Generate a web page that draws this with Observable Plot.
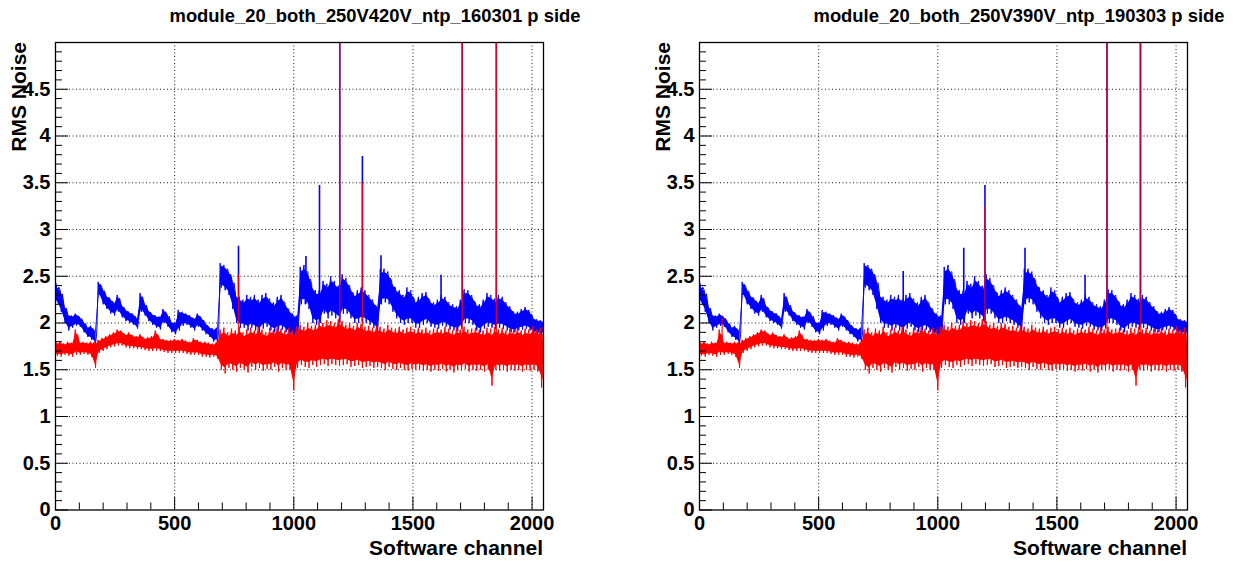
<!DOCTYPE html>
<html><head><meta charset="utf-8">
<script src="https://cdn.jsdelivr.net/npm/d3@7"></script>
<script src="https://cdn.jsdelivr.net/npm/@observablehq/plot@0.6"></script>
<style>
body{margin:0;background:#fff;font-family:"Liberation Sans",Arial,Helvetica,sans-serif;}
#wrap{position:relative;width:1241px;height:563px;overflow:hidden;background:#fff}
.panel{position:absolute;top:0;width:620px;height:563px}
.title{position:absolute;top:7px;font-weight:bold;font-size:18.4px;line-height:1;white-space:nowrap;transform:translateX(-50%)}
.xlab{position:absolute;top:537px;font-weight:bold;font-size:21px;line-height:1;white-space:nowrap;transform:translateX(-100%)}
.ylab{position:absolute;top:42px;font-weight:bold;font-size:21px;line-height:1;white-space:nowrap;transform-origin:0 0;transform:rotate(-90deg) translateX(-100%)}
</style></head>
<body><div id="wrap"></div>
<script>
// ---- data ----
const titles = ["module_20_both_250V420V_ntp_160301 p side", "module_20_both_250V390V_ntp_190303 p side"];
const xTitle = "Software channel";
const yTitle = "RMS Noise";
const xTicks = [0, 500, 1000, 1500, 2000];
const xMinor = [100,200,300,400,600,700,800,900,1100,1200,1300,1400,1600,1700,1800,1900];
const yTicks = [0, 0.5, 1, 1.5, 2, 2.5, 3, 3.5, 4, 4.5];
const yMinor = [0.1,0.2,0.3,0.4,0.6,0.7,0.8,0.9,1.1,1.2,1.3,1.4,1.6,1.7,1.8,1.9,2.1,2.2,2.3,2.4,2.6,2.7,2.8,2.9,3.1,3.2,3.3,3.4,3.6,3.7,3.8,3.9,4.1,4.2,4.3,4.4,4.6,4.7,4.8,4.9];

// envelope (min / max) of the noise per 16-channel bin
const blueLo = [2.24,2.12,2.0,1.92,1.95,1.97,1.96,1.9,1.85,1.82,1.78,2.3,2.2,2.15,2.1,2.08,
2.12,2.06,2.02,2.0,1.98,1.94,2.12,2.08,2.02,1.98,1.95,1.93,2.0,1.96,1.9,1.88,
1.92,1.97,1.98,1.95,1.92,1.96,1.92,1.88,1.85,1.8,1.8,2.38,2.35,2.3,2.15,2.0,
1.95,1.95,1.92,1.95,1.92,1.9,1.94,1.96,1.92,1.9,1.92,1.93,1.9,1.87,1.85,1.84,
2.2,2.2,2.15,2.0,1.98,2.0,2.1,2.05,2.08,2.05,2.02,2.1,2.1,2.05,2.0,2.0,
2.02,2.0,1.98,1.95,1.92,2.2,2.22,2.2,2.12,2.05,2.0,1.98,2.0,2.0,1.95,1.95,
1.98,2.0,1.96,1.95,1.94,1.97,1.96,1.93,1.92,1.91,1.94,2.0,2.0,1.98,1.92,1.9,
1.94,1.96,1.95,1.93,1.95,1.94,1.92,1.9,1.9,1.92,1.93,1.94,1.92,1.89,1.88,1.87];
const blueHi = [2.42,2.36,2.2,2.1,2.08,2.1,2.07,2.02,1.96,1.97,1.92,2.44,2.38,2.3,2.27,2.22,
2.3,2.2,2.15,2.12,2.1,2.05,2.32,2.22,2.14,2.1,2.08,2.07,2.15,2.1,2.02,2.0,
2.14,2.12,2.1,2.08,2.05,2.1,2.06,2.0,1.96,1.94,1.95,2.64,2.62,2.58,2.5,2.32,
2.28,2.25,2.3,2.28,2.3,2.25,2.3,2.32,2.26,2.22,2.28,2.3,2.22,2.15,2.1,2.08,
2.6,2.62,2.55,2.42,2.35,2.35,2.45,2.42,2.5,2.45,2.4,2.52,2.48,2.4,2.32,2.35,
2.38,2.35,2.3,2.25,2.18,2.58,2.58,2.55,2.45,2.38,2.35,2.3,2.38,2.35,2.25,2.28,
2.32,2.33,2.25,2.22,2.25,2.3,2.28,2.22,2.2,2.18,2.25,2.36,2.35,2.3,2.22,2.2,
2.25,2.32,2.3,2.26,2.3,2.28,2.22,2.18,2.12,2.12,2.15,2.17,2.14,2.06,2.04,2.03];
const redLo = [1.65,1.64,1.66,1.65,1.64,1.66,1.66,1.67,1.66,1.64,1.52,1.68,1.7,1.72,1.74,1.75,
1.76,1.76,1.74,1.73,1.73,1.72,1.72,1.71,1.7,1.7,1.7,1.7,1.69,1.68,1.68,1.68,
1.68,1.68,1.67,1.66,1.66,1.66,1.64,1.64,1.63,1.64,1.62,1.5,1.46,1.52,1.5,1.48,
1.52,1.5,1.47,1.53,1.5,1.52,1.49,1.51,1.5,1.53,1.48,1.52,1.5,1.5,1.28,1.52,
1.55,1.53,1.52,1.55,1.53,1.55,1.56,1.54,1.56,1.55,1.54,1.55,1.56,1.53,1.54,1.55,
1.52,1.53,1.54,1.52,1.53,1.52,1.5,1.53,1.51,1.5,1.52,1.5,1.49,1.51,1.5,1.51,
1.49,1.5,1.48,1.5,1.49,1.51,1.48,1.5,1.47,1.5,1.49,1.51,1.48,1.5,1.49,1.5,
1.48,1.5,1.33,1.5,1.49,1.5,1.48,1.5,1.49,1.5,1.48,1.5,1.49,1.5,1.48,1.31];
const redHi = [1.79,1.8,1.78,1.8,1.79,1.93,1.8,1.8,1.79,1.8,1.8,1.82,1.84,1.86,1.88,1.9,
1.93,1.92,1.88,1.9,1.87,1.86,1.88,1.84,1.85,1.86,1.92,1.84,1.83,1.82,1.82,1.83,
1.82,1.83,1.81,1.8,1.84,1.82,1.8,1.8,1.79,1.78,1.8,1.93,1.95,1.9,1.94,1.92,
1.96,1.9,1.93,1.95,1.92,1.96,1.93,1.9,1.95,1.93,1.97,1.94,1.92,1.95,1.93,1.96,
1.98,1.96,2.0,1.97,1.98,2.02,2.0,2.03,2.02,2.0,2.04,2.02,1.98,2.0,1.97,2.0,
1.99,1.96,1.97,1.95,1.97,1.96,1.94,1.98,1.95,1.94,1.96,1.93,1.95,1.96,1.93,1.95,
1.93,1.95,1.92,1.94,1.95,1.93,1.96,1.94,1.92,1.95,1.93,1.96,1.93,1.94,1.95,1.93,
1.92,1.95,1.94,1.96,1.93,1.95,1.92,1.94,1.93,1.95,1.92,1.94,1.93,1.96,1.93,1.95];

// isolated spikes: channel, top value, base value (values above 5 run off the frame)
const spikesBlue = [
  [[768,2.82,2.0],[1051,2.71,2.2],[1108,3.47,2.0],[1193,5.5,2.0],[1288,3.78,2.0],[1366,2.72,2.2],[1618,2.51,2.0],[1707,5.5,2.0],[1850,5.5,2.0]],
  [[855,2.55,2.0],[1109,2.8,2.0],[1198,3.47,2.0],[1366,2.8,2.2],[1618,2.51,2.0],[1710,5.5,2.0],[1850,5.5,2.0]]
];
const spikesRed = [
  [[768,2.51,1.8],[1193,5.5,1.8],[1288,3.5,1.8],[1707,5.5,1.8],[1850,5.5,1.8]],
  [[95,2.05,1.75],[1198,3.25,1.8],[1710,5.5,1.8],[1852,5.5,1.8]]
];

const BIN = 16, NCH = 2048;
// solid core of each band, and a trace that visits each bin's max and min
function envelope(lo, hi) {
  return lo.map((l, i) => ({x: i === 0 ? 0 : i === lo.length - 1 ? NCH - 1 : i * BIN + BIN / 2, lo: l, hi: hi[i]}));
}
function zigzag(lo, hi) {
  const pts = [];
  lo.forEach((l, i) => {
    pts.push({x: i * BIN + 3, y: hi[i]});
    pts.push({x: i * BIN + 8, y: l});
    pts.push({x: i * BIN + 13, y: (hi[i] + l) / 2 + (hi[i] - l) * 0.3});
  });
  return pts;
}
const blueEnv = envelope(blueLo, blueHi), redEnv = envelope(redLo, redHi);
const blueZig = zigzag(blueLo, blueHi), redZig = zigzag(redLo, redHi);

const wrap = document.getElementById("wrap");
[0, 1].forEach(p => {
  const left = p * 644;
  const div = document.createElement("div");
  div.className = "panel"; div.style.left = left + "px";
  const toObj = a => a.map(([ch, top, base]) => ({ch, top, base}));
  const font = {fontSize: 20, fontWeight: "bold", fill: "#000", tickFormat: d => String(d)};
  const core = (c) => Plot.areaY(c === "b" ? blueEnv : redEnv, {x: "x", y1: (d) => d.lo + (d.hi - d.lo) * 0.12, y2: (d) => d.hi - (d.hi - d.lo) * 0.12, fill: c === "b" ? "#0000ff" : "#ff0000"});
  const chart = Plot.plot({
    width: 620, height: 563,
    marginLeft: 55, marginRight: 77, marginTop: 42, marginBottom: 53.5,
    style: {background: "transparent", fontFamily: "Liberation Sans, Arial, sans-serif", overflow: "visible"},
    x: {domain: [0, 2048], label: null},
    y: {domain: [0, 5], label: null},
    marks: [
      Plot.gridX(xTicks.slice(1), {stroke: "#000", strokeOpacity: 0.9, strokeDasharray: "1,2.5"}),
      Plot.gridY(yTicks.slice(1), {stroke: "#000", strokeOpacity: 0.9, strokeDasharray: "1,2.5"}),
      core("b"),
      Plot.line(blueZig, {x: "x", y: "y", stroke: "#0000ff", strokeWidth: 1}),
      Plot.ruleX(toObj(spikesBlue[p]), {x: "ch", y1: "base", y2: "top", stroke: "#0000ff", strokeWidth: 1.6, clip: true}),
      core("r"),
      Plot.line(redZig, {x: "x", y: "y", stroke: "#ff0000", strokeWidth: 1}),
      Plot.ruleX(toObj(spikesRed[p]), {x: "ch", y1: "base", y2: "top", stroke: "#ff0000", strokeWidth: 1.3, strokeOpacity: 0.85, clip: true}),
      Plot.axisX(xTicks, {tickSize: -13, tickPadding: 19, ...font, label: null}),
      Plot.axisX(xMinor, {tickSize: -7, tickFormat: () => "", label: null}),
      Plot.axisY(yTicks, {tickSize: -13, tickPadding: 18, ...font, label: null}),
      Plot.axisY(yMinor, {tickSize: -7, tickFormat: () => "", label: null}),
      Plot.frame({stroke: "#000", strokeWidth: 1.3})
    ]
  });
  div.appendChild(chart);
  const t = document.createElement("div");
  t.className = "title"; t.textContent = titles[p]; t.style.left = "375px";
  div.appendChild(t);
  const xl = document.createElement("div");
  xl.className = "xlab"; xl.textContent = xTitle; xl.style.left = "543px";
  div.appendChild(xl);
  const yl = document.createElement("div");
  yl.className = "ylab"; yl.textContent = yTitle; yl.style.left = "8px";
  div.appendChild(yl);
  wrap.appendChild(div);
});
</script>
</body></html>
